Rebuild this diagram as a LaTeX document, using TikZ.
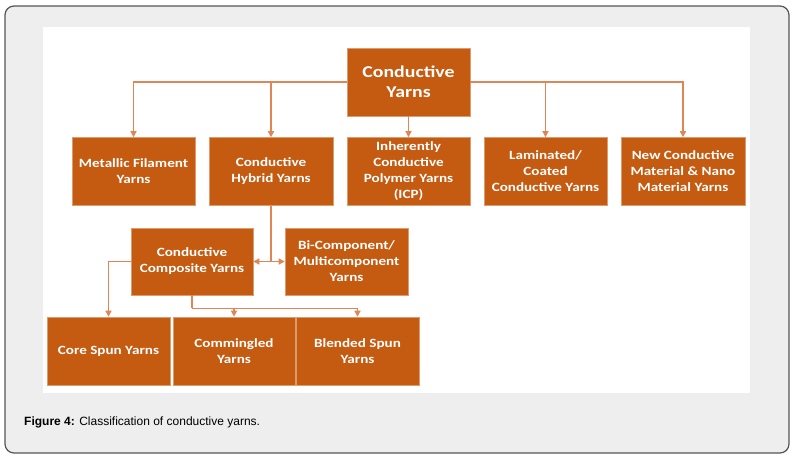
\documentclass[tikz,border=0pt]{standalone}
\usepackage{fontspec}
\setmainfont{Liberation Sans}
\newfontfamily\boxfont[FakeStretch=1.2]{Carlito}
\usetikzlibrary{arrows.meta}
\definecolor{boxorange}{HTML}{C55A11}
\definecolor{lineorange}{RGB}{222,134,88}
\definecolor{framegray}{HTML}{EEEEEE}
\definecolor{frameedge}{HTML}{555555}
\tikzset{
  ybox/.style={fill=boxorange, draw=boxorange!60!white, line width=0.6pt, inner sep=0pt,
    minimum width=123pt, minimum height=68pt,
    align=center, text=white, font=\boxfont\bfseries\fontsize{12.6}{16}\selectfont},
  conn/.style={draw=lineorange, line width=1.4pt},
  arr/.style={conn, -{Triangle[length=6pt,width=6pt]}},
}
\begin{document}
\begin{tikzpicture}[x=1pt,y=-1pt]
\useasboundingbox (0,0) rectangle (796,458);
\fill[white] (0,0) rectangle (796,458);
\draw[fill=framegray, draw=frameedge, line width=1.2pt, rounded corners=9pt] (5,6) rectangle (789,453);
\fill[white] (43,27) rectangle (750,393);

\node[ybox, font=\boxfont\bfseries\fontsize{16.5}{20}\selectfont] (top) at (408.5,82) {Conductive\\Yarns};
\node[ybox] (met) at (133.5,171.5) {Metallic Filament\\Yarns};
\node[ybox, minimum width=124pt] (hyb) at (271,171.5) {Conductive\\Hybrid Yarns};
\node[ybox] (icp) at (408.5,171.5) {Inherently\\Conductive\\Polymer Yarns\\(ICP)};
\node[ybox] (lam) at (545.5,171.5) {Laminated/\\Coated\\Conductive Yarns};
\node[ybox, minimum width=124pt] (new) at (683,171.5) {New Conductive\\Material \& Nano\\Material Yarns};
\node[ybox, minimum width=122pt, minimum height=67pt] (comp) at (192,261.5) {Conductive\\Composite Yarns};
\node[ybox, minimum height=67pt] (bi) at (346.5,261.5) {Bi-Component/\\Multicomponent\\Yarns};
\node[ybox] (core) at (108.5,351) {Core Spun Yarns};
\node[ybox, minimum width=122pt] (comm) at (234,351) {Commingled\\Yarns};
\node[ybox] (blend) at (357.5,351) {Blended Spun\\Yarns};

\draw[arr] (top.west) -| (met.north);
\draw[arr] (top.west) -| (hyb.north);
\draw[arr] (top.south) -- (icp.north);
\draw[arr] (top.east) -| (lam.north);
\draw[arr] (top.east) -| (new.north);

\coordinate (j) at (hyb.south |- comp.east);
\draw[conn] (hyb.south) -- (j);
\draw[arr] (j) -- (comp.east);
\draw[arr] (j) -- (bi.west);

\draw[arr] (comp.west) -| (core.north);

\coordinate (k) at ([yshift=-13pt]comp.south);
\draw[conn] (comp.south) -- (k);
\draw[arr] (k) -| (comm.north);
\draw[arr] (k) -| (blend.north);

\node[anchor=base west, inner sep=0pt, font=\fontsize{12}{14}\selectfont] (cap) at (24,425)
  {\textbf{Figure 4:} Classification of conductive yarns.};
\end{tikzpicture}
\end{document}
